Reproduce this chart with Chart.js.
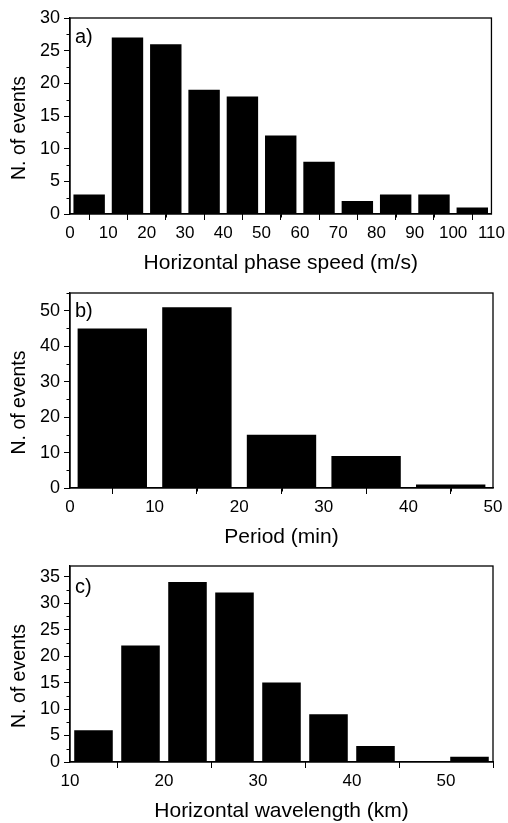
<!DOCTYPE html>
<html><head><meta charset="utf-8">
<script src="https://cdn.jsdelivr.net/npm/chart.js@4/dist/chart.umd.min.js"></script>
<style>
body{margin:0;background:#fff;width:508px;height:823px;overflow:hidden;position:relative;font-family:"Liberation Sans",Arial,sans-serif}
.panel{position:absolute;left:0;width:508px}
.lbl{position:absolute;left:75px;font-size:20px;line-height:20px;color:#000;font-family:"Liberation Sans",Arial,sans-serif}
</style></head><body>
<div class="panel" id="pa" style="top:0;height:276px"><canvas id="ca" width="508" height="276"></canvas></div>
<div class="panel" id="pb" style="top:276px;height:274px"><canvas id="cb" width="508" height="274"></canvas></div>
<div class="panel" id="pc" style="top:550px;height:274px"><canvas id="cc" width="508" height="274"></canvas></div>
<div class="lbl" style="top:26px">a)</div>
<div class="lbl" style="top:300px">b)</div>
<div class="lbl" style="top:576px">c)</div>
<script>
// ---- data ----
const speedBins = [0, 10, 20, 30, 40, 50, 60, 70, 80, 90, 100];
const speedCounts = [3, 27, 26, 19, 18, 12, 8, 2, 3, 3, 1];
const speedBinWidth = 10;

const periodBins = [0, 10, 20, 30, 40];
const periodCounts = [45, 51, 15, 9, 1];
const periodBinWidth = 10;

const wavelengthBins = [10, 15, 20, 25, 30, 35, 40, 45, 50];
const wavelengthCounts = [6, 22, 34, 32, 15, 9, 3, 0, 1];
const wavelengthBinWidth = 5;

const xTitles = ['Horizontal phase speed (m/s)', 'Period (min)', 'Horizontal wavelength (km)'];
const yTitle = 'N. of events';

const FONT = '"Liberation Sans", Arial, sans-serif';

const frame = {
  id: 'frame',
  afterDraw(chart, args, o) {
    const ctx = chart.ctx, a = chart.chartArea;
    const xs = chart.scales.x, ys = chart.scales.y;
    ctx.save();
    ctx.strokeStyle = '#000';
    ctx.lineWidth = 1;
    ctx.beginPath();
    for (let v = xs.min; v <= xs.max + 1e-9; v += o.xMinor) {
      if (Math.abs(((v - o.xBase) / o.xStep) - Math.round((v - o.xBase) / o.xStep)) < 1e-6) continue;
      const p = Math.round(xs.getPixelForValue(v)) + 0.5;
      ctx.moveTo(p, a.bottom); ctx.lineTo(p, a.bottom + 3.5);
    }
    for (let v = ys.min; v <= ys.max + 1e-9; v += o.yMinor) {
      if (Math.abs((v / o.yStep) - Math.round(v / o.yStep)) < 1e-6) continue;
      const p = Math.round(ys.getPixelForValue(v)) + 0.5;
      ctx.moveTo(a.left, p); ctx.lineTo(a.left - 3.5, p);
    }
    ctx.stroke();
    ctx.lineWidth = 1.3;
    ctx.strokeRect(a.left, a.top, a.right - a.left, a.bottom - a.top);
    // y-axis title (sits slightly below the plot centre, as in the reference)
    ctx.translate(20, (a.top + a.bottom) / 2 + 12);
    ctx.rotate(-Math.PI / 2);
    ctx.fillStyle = '#000';
    ctx.font = '19.5px ' + FONT;
    ctx.textAlign = 'center';
    ctx.textBaseline = 'middle';
    ctx.fillText(o.yTitle, 0, 0);
    ctx.restore();
  }
};

function makeChart(id, bins, counts, bw, cfg) {
  const pts = bins.map((b, i) => ({ x: b + bw / 2, y: counts[i] }));
  return new Chart(document.getElementById(id), {
    type: 'bar',
    data: { datasets: [{ data: pts, backgroundColor: '#000', borderWidth: 0, barPercentage: 0.82, categoryPercentage: 1 }] },
    options: {
      responsive: false, animation: false, devicePixelRatio: 1,
      layout: { padding: { top: cfg.padTop, right: 15, left: 0, bottom: 0 } },
      plugins: { legend: { display: false }, tooltip: { enabled: false }, frame: cfg.minor },
      scales: {
        x: {
          type: 'linear', min: cfg.xMin, max: cfg.xMax, offset: false,
          ticks: { stepSize: cfg.xStep, includeBounds: false, color: '#000', font: { family: FONT, size: 17 }, padding: 3, maxRotation: 0, autoSkip: false },
          grid: { display: true, drawOnChartArea: false, drawTicks: true, tickLength: 6, tickColor: '#000', tickWidth: 1 },
          border: { display: true, color: '#000', width: 1.3 },
          title: { display: true, text: cfg.xTitle, color: '#000', font: { family: FONT, size: 21 }, padding: { top: 0, bottom: 0 } },
          afterFit: s => { s.height = cfg.xAxisH; }
        },
        y: {
          min: 0, max: cfg.yMax,
          ticks: { stepSize: cfg.yStep, includeBounds: false, color: '#000', font: { family: FONT, size: 18 }, padding: 4 },
          grid: { display: true, drawOnChartArea: false, drawTicks: true, tickLength: 6, tickColor: '#000', tickWidth: 1 },
          border: { display: true, color: '#000', width: 1.3 },
          title: { display: false },
          afterFit: s => { s.width = 70; }
        }
      }
    },
    plugins: [frame]
  });
}

makeChart('ca', speedBins, speedCounts, speedBinWidth, {
  padTop: 18, xMin: 0, xMax: 110, xStep: 10, yMax: 30, yStep: 5, xTitle: xTitles[0], xAxisH: 62,
  minor: { xMinor: 5, xStep: 10, xBase: 0, yMinor: 2.5, yStep: 5, yTitle: yTitle }
});
makeChart('cb', periodBins, periodCounts, periodBinWidth, {
  padTop: 17, xMin: 0, xMax: 50, xStep: 10, yMax: 55, yStep: 10, xTitle: xTitles[1], xAxisH: 62,
  minor: { xMinor: 5, xStep: 10, xBase: 0, yMinor: 5, yStep: 10, yTitle: yTitle }
});
makeChart('cc', wavelengthBins, wavelengthCounts, wavelengthBinWidth, {
  padTop: 16, xMin: 10, xMax: 55, xStep: 10, yMax: 37, yStep: 5, xTitle: xTitles[2], xAxisH: 62,
  minor: { xMinor: 5, xStep: 10, xBase: 10, yMinor: 2.5, yStep: 5, yTitle: yTitle }
});
</script>
</body></html>
